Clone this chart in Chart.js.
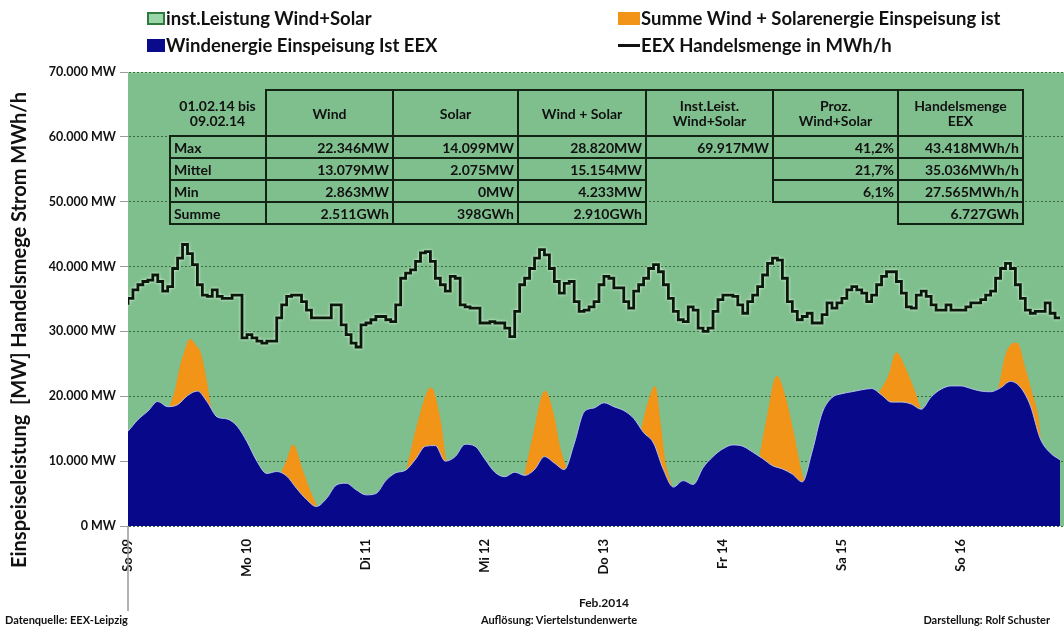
<!DOCTYPE html>
<html><head><meta charset="utf-8">
<script src="https://cdn.jsdelivr.net/npm/chart.js@4.4.0/dist/chart.umd.min.js"></script>
<style>
html,body{margin:0;padding:0;background:#fff;}
#wrap{position:relative;width:1064px;height:633px;overflow:hidden;font-family:Lato,'Open Sans',sans-serif;font-weight:700;color:#111;}
#c{position:absolute;left:0;top:0;}
.leg{position:absolute;font-size:18.5px;line-height:20px;white-space:nowrap;display:flex;align-items:center;color:#111;}
.sw{display:inline-block;margin-right:1px;box-sizing:border-box;}
#tbl{position:absolute;left:169px;top:89px;border-collapse:collapse;table-layout:fixed;font-size:14px;line-height:15px;color:#111;}
#tbl td{padding:0 3px;border:2px solid #142414;white-space:nowrap;overflow:visible;}
#tbl td.nb{border:none;}
#tbl td.l{text-align:left;}
#tbl td.r{text-align:right;}
#tbl td.h{text-align:center;}
#tbl tr.hr td{height:44px;}
#tbl tr.dr td{height:20px;}
.txt{position:absolute;white-space:nowrap;color:#111;}
</style></head>
<body>
<div id="wrap">
<canvas id="c" width="1064" height="633"></canvas>
<div class="leg" style="left:147px;top:8px"><span class="sw" style="width:18px;height:13px;background:#9ad6a8;border:2px solid #2f7a3d"></span>inst.Leistung Wind+Solar</div>
<div class="leg" style="left:147px;top:35px"><span class="sw" style="width:18px;height:13px;background:#0a0a8c"></span>Windenergie Einspeisung Ist EEX</div>
<div class="leg" style="left:618px;top:8px"><span class="sw" style="width:22px;height:13px;background:#f29418"></span>Summe Wind + Solarenergie Einspeisung ist</div>
<div class="leg" style="left:618px;top:35px"><span class="sw" style="width:22px;height:3px;background:#111"></span>EEX Handelsmenge in MWh/h</div>
<table id="tbl"></table>
<div class="txt" style="left:-262px;top:318px;width:560px;text-align:center;font-size:20px;line-height:24px;transform:rotate(-90deg);">Einspeiseleistung&nbsp; [MW] Handelsmege Strom MWh/h</div>
<div class="txt" style="left:544px;top:595px;width:120px;text-align:center;font-size:12px;">Feb.2014</div>
<div class="txt" style="left:5px;top:613px;font-size:11px;">Datenquelle: EEX-Leipzig</div>
<div class="txt" style="left:429px;top:613px;width:260px;text-align:center;font-size:11px;">Auflösung: Viertelstundenwerte</div>
<div class="txt" style="right:14px;top:613px;font-size:11px;">Darstellung: Rolf Schuster</div>
</div>
<script>
// ---- data ----
const dayLabels = ['So 09','Mo 10','Di 11','Mi 12','Do 13','Fr 14','Sa 15','So 16'];
const hoursPerDay = 24;
const instLeistung = 69917; // MW, constant over the week
const windStepHours = 2;
const windValues = [14600,16400,17700,19200,18400,18700,20100,20800,19100,16800,
  16500,15400,13000,10000,8100,8400,7700,5800,4100,3000,
  4200,6300,6600,5600,4800,5000,7000,8200,8600,10300,
  12300,12400,10000,10700,12600,12300,10300,8300,7600,8300,
  7800,8700,10700,9700,8700,12700,17600,18200,19000,18400,
  17800,16600,14400,12800,8700,6000,7000,6400,9000,10700,
  11900,12500,12300,11400,10400,9300,8800,8000,6800,11500,
  17400,19800,20400,20700,21000,21200,20200,19100,19100,18800,
  18000,19900,21100,21600,21600,21200,20800,20700,21300,22300,
  21400,18600,13500,11300,10200];
const sumHours = [8.4,9.5,10.5,11.5,12.5,13.5,14.6,15.6,16.7, 24,
  31.0,32.0,33.3,35.0,36.7,38.0, 48,
  56.2,58.6,61.1,63.0,64.3,65.0, 72,
  80.0,81.8,84.1,85.8,87.1,88.5, 96,
  103.6,105.0,106.3,107.3,108.3,109.7, 120,
  127.5,128.8,130.9,132.5,134.2,135.6,136.3, 144,
  151.4,153.4,155.0,156.7,158.4,159.8, 168,
  175.6,177.2,179.3,181.0,182.3,183.6,184.0];
const sumValues = [18300,20800,24400,27000,28800,28000,26700,23200,18200, null,
  8300,10000,12500,9000,5400,3200, null,
  8600,16200,21300,16200,10000,10200, null,
  7800,14100,20800,17200,12100,8600, null,
  15000,19200,21500,16200,10000,6000, null,
  10900,16200,23100,20000,14400,9000,6800, null,
  20400,23100,26700,24400,21300,18200, null,
  21000,26700,28200,24100,20500,16500,13600];
const eexValues = [34100,35100,36400,37200,37700,37900,38700,37700,36200,36900,
  39700,41300,43400,42000,40300,37200,35600,35400,36400,35400,
  35100,35100,35600,35600,29000,29500,29000,28500,28200,28500,
  28500,32100,34100,35400,35600,35600,34600,33300,32100,32100,
  32100,32100,34100,34100,31000,29500,28200,27600,31000,31300,
  31800,32300,32300,31800,31500,34100,38200,39000,39500,40800,
  42100,42300,40800,38200,37200,36200,38500,38200,34100,33800,
  33600,33600,31300,31300,31500,31300,31300,30500,29200,33100,
  37200,38200,39700,41300,42600,41800,39700,37700,35900,37400,
  37700,34600,33100,33300,33800,34600,37200,38500,38200,36700,
  36700,34600,33600,36200,37200,38200,39700,40300,39200,37200,
  35100,33100,31800,31500,33800,33300,30500,30000,30500,33100,
  34900,35600,35600,35400,34100,32800,34600,35600,36900,38700,
  40500,41300,41000,38200,34600,33100,31800,32300,32800,31300,
  31300,32600,34400,33600,34400,35100,36400,36900,36400,35900,
  34600,35600,37200,38500,39200,39200,37700,35900,33800,33600,
  35600,36200,35400,34100,33300,33300,34100,33300,33300,33300,
  33800,34400,34400,34900,35600,36200,38200,39700,40500,39700,
  37200,35100,33300,32800,33100,33100,34400,32800,32100];
const yTickValues = [0,10000,20000,30000,40000,50000,60000,70000];

// table texts
const tableHeader = ['01.02.14 bis<br>09.02.14','Wind','Solar','Wind + Solar','Inst.Leist.<br>Wind+Solar','Proz.<br>Wind+Solar','Handelsmenge<br>EEX'];
const rowMax    = ['Max','22.346MW','14.099MW','28.820MW','69.917MW','41,2%','43.418MWh/h'];
const rowMittel = ['Mittel','13.079MW','2.075MW','15.154MW','','21,7%','35.036MWh/h'];
const rowMin    = ['Min','2.863MW','0MW','4.233MW','','6,1%','27.565MWh/h'];
const rowSumme  = ['Summe','2.511GWh','398GWh','2.910GWh','','','6.727GWh'];

// ---- table ----
(function(){
  const widths=[96,127,125,128,127,125,125];
  const t=document.getElementById('tbl');
  let html='<colgroup>'+widths.map(w=>'<col style="width:'+w+'px">').join('')+'</colgroup>';
  html+='<tr class="hr">'+tableHeader.map((h,i)=>'<td class="h'+(i===0?' nb':'')+'">'+h+'</td>').join('')+'</tr>';
  [rowMax,rowMittel,rowMin,rowSumme].forEach(r=>{
    html+='<tr class="dr">'+r.map((v,i)=>{
      let cls = i===0?'l':'r';
      if(v==='' ) cls+=' nb';
      return '<td class="'+cls+'">'+v+'</td>';
    }).join('')+'</tr>';
  });
  t.innerHTML=html;
})();

// ---- chart ----
function fmtDE(v){ return String(Math.round(v)).replace(/\B(?=(\d{3})+(?!\d))/g,'.'); }
const totalHours = 188.8;

const gridOverFill = {
  id:'gridOverFill',
  afterDatasetDraw(chart,args){ if(args.index===3){ chart.scales.y.drawGrid(chart.chartArea); } }
};
const lineGlow = {
  id:'lineGlow',
  beforeDatasetDraw(chart,args){ if(args.index===0){ const c=chart.ctx; c.save(); c.shadowColor='rgba(235,255,235,1)'; c.shadowBlur=3; } },
  afterDatasetDraw(chart,args){ if(args.index===0){ chart.ctx.restore(); } }
};
const firstTickLine = {
  id:'firstTickLine',
  afterDraw(chart){
    const x = chart.scales.x.getPixelForValue(0), y0 = chart.chartArea.bottom, c = chart.ctx;
    c.save(); c.strokeStyle='#9a9a9a'; c.lineWidth=1.5;
    c.beginPath(); c.moveTo(x, y0); c.lineTo(x, y0+85); c.stroke(); c.restore();
  }
};

Chart.defaults.font.family = 'Lato, "Open Sans", sans-serif';
Chart.defaults.font.weight = 'bold';
Chart.defaults.color = '#111';

new Chart(document.getElementById('c'), {
  type:'line',
  data:{ datasets:[
    { label:'EEX Handelsmenge in MWh/h', data:eexValues.map((v,i)=>({x:i,y:v})),
      borderColor:'#0b170b', borderWidth:2.8, stepped:'after', fill:false, pointRadius:0 },
    { label:'Windenergie Einspeisung Ist EEX', data:windValues.map((v,i)=>({x:i*windStepHours,y:v})),
      borderColor:'rgba(185,200,240,0.9)', borderWidth:1, backgroundColor:'#08088a', fill:'origin',
      cubicInterpolationMode:'monotone', pointRadius:0 },
    { label:'Summe Wind + Solarenergie Einspeisung ist', data:sumHours.map((h,i)=>({x:h,y:sumValues[i]})),
      borderColor:'#f29418', borderWidth:1, backgroundColor:'#f29418', fill:'origin', spanGaps:false,
      cubicInterpolationMode:'monotone', pointRadius:0 },
    { label:'inst.Leistung Wind+Solar', data:[{x:0,y:instLeistung},{x:totalHours,y:instLeistung}],
      borderColor:'#a6dcb0', borderWidth:1.5, backgroundColor:'#7fbf8d', fill:'origin', pointRadius:0 }
  ]},
  options:{
    responsive:false, animation:false, events:[],
    layout:{ padding:{ top:72, left:0, right:0, bottom:0 } },
    plugins:{ legend:{display:false}, tooltip:{enabled:false} },
    scales:{
      x:{ type:'linear', min:0, max:totalHours,
        afterBuildTicks:(ax)=>{ ax.ticks = dayLabels.map((l,i)=>({value:i*hoursPerDay})); },
        afterFit:(ax)=>{ ax.height = 107; },
        ticks:{ autoSkip:false, minRotation:90, maxRotation:90, padding:5,
          callback:(v,i)=>dayLabels[i], font:{size:13, weight:'bold'}, color:'#111' },
        grid:{ display:false },
        border:{ display:false }
      },
      y:{ min:0, max:70000,
        afterBuildTicks:(ax)=>{ ax.ticks = yTickValues.map(v=>({value:v})); },
        afterFit:(ax)=>{ ax.width = 128; },
        ticks:{ padding:4, callback:(v)=>fmtDE(v)+' MW', font:{size:12.5, weight:'bold'}, color:'#111' },
        grid:{ color:'#3a6a42', lineWidth:1, tickLength:8, tickColor:'#9a9a9a', tickBorderDash:[], drawTicks:true },
        border:{ display:true, color:'#9a9a9a', width:1, dash:[2,2] }
      }
    }
  },
  plugins:[gridOverFill, lineGlow, firstTickLine]
});
</script>
</body></html>
